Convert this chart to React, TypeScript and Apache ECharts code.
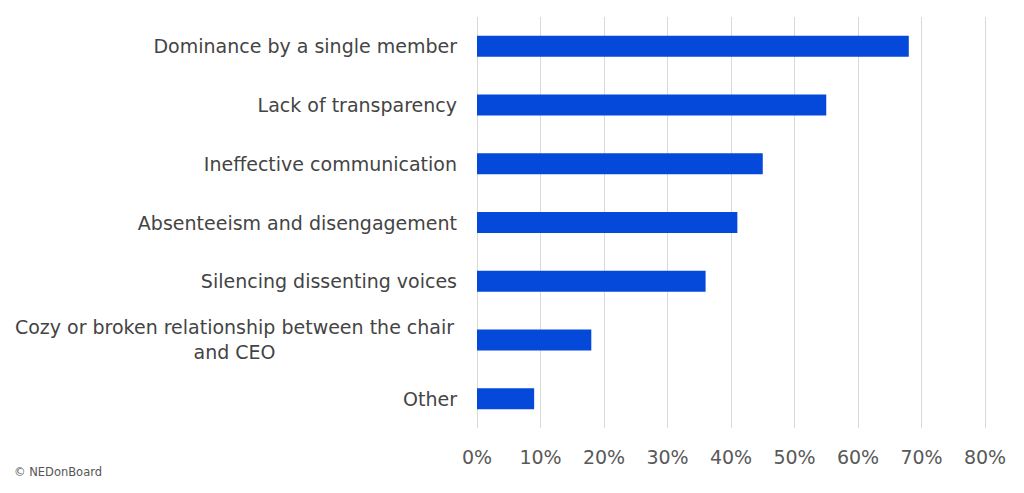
import React, { useEffect, useRef } from "react";
import * as echarts from "echarts";

const categories = [
  "Dominance by a single member",
  "Lack of transparency",
  "Ineffective communication",
  "Absenteeism and disengagement",
  "Silencing dissenting voices",
  "Cozy or broken relationship between the chair and CEO",
  "Other",
];
const values = [68, 55, 45, 41, 36, 18, 9];
const xTicks = { min: 0, max: 80, interval: 10 };
const longLabelLines = ["Cozy or broken relationship between the chair", "and CEO"];
const credit = "© NEDonBoard";

const FONT = "DejaVu Sans, Liberation Sans, sans-serif";

export default function App() {
  const ref = useRef<HTMLDivElement>(null);
  useEffect(() => {
    if (!ref.current) return;
    const chart = echarts.init(ref.current, undefined, { renderer: "svg" });
    chart.setOption({
      animation: false,
      backgroundColor: "#ffffff",
      grid: { left: 477, right: 39, top: 17, bottom: 65, containLabel: false },
      xAxis: {
        type: "value",
        min: xTicks.min,
        max: xTicks.max,
        interval: xTicks.interval,
        axisLine: { show: false },
        axisTick: { show: false },
        splitLine: { show: true, lineStyle: { color: "#d9d9d9", width: 1 } },
        axisLabel: {
          formatter: "{value}%",
          fontSize: 19,
          fontFamily: FONT,
          color: "#595959",
          margin: 19,
        },
      },
      yAxis: {
        type: "category",
        data: categories,
        inverse: true,
        axisLine: { show: false },
        axisTick: { show: false },
        splitLine: { show: false },
        axisLabel: {
          fontSize: 19,
          fontFamily: FONT,
          color: "#444444",
          margin: 20,
          formatter: (v: string) =>
            v === categories[5]
              ? longLabelLines.map((l) => `{c|${l}}`).join("\n")
              : v,
          rich: {
            c: {
              width: 445,
              align: "center",
              fontSize: 19,
              fontFamily: FONT,
              color: "#444444",
              lineHeight: 25,
            },
          },
        },
      },
      series: [
        {
          type: "bar",
          data: values,
          barWidth: 21,
          itemStyle: { color: "#0549DB" },
        },
      ],
      graphic: [
        {
          type: "text",
          left: 14,
          top: 466,
          style: {
            text: credit,
            fontSize: 11.5,
            fontFamily: FONT,
            fill: "#555555",
          },
        },
      ],
    });
    return () => chart.dispose();
  }, []);
  return (
    <div
      ref={ref}
      style={{ position: "fixed", left: 0, top: 0, width: 1024, height: 493 }}
    />
  );
}
